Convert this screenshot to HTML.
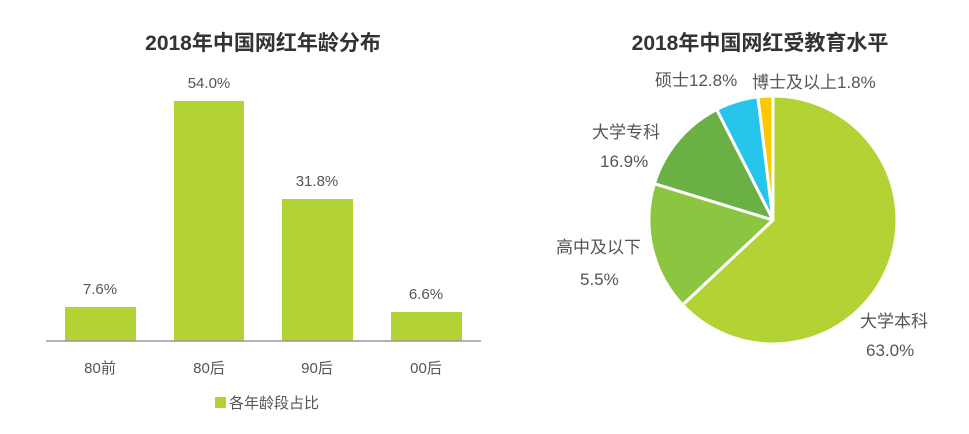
<!DOCTYPE html>
<html><head><meta charset="utf-8"><style>
body{margin:0;background:#fff;width:969px;height:429px;overflow:hidden}
svg text{font-family:"Liberation Sans","Noto Sans CJK SC",sans-serif}
</style></head><body>
<svg width="969" height="429" xmlns="http://www.w3.org/2000/svg">
<text x="263" y="50" font-size="21" font-weight="bold" text-anchor="middle" fill="#333">2018年中国网红年龄分布</text>
<text x="760" y="50" font-size="21" font-weight="bold" text-anchor="middle" fill="#333">2018年中国网红受教育水平</text>
<g fill="#b3d233">
<rect x="65" y="307" width="71" height="34"/>
<rect x="174" y="101" width="70" height="240"/>
<rect x="282" y="199" width="71" height="142"/>
<rect x="391" y="312" width="71" height="29"/>
</g>
<line x1="46" y1="341" x2="481" y2="341" stroke="#999" stroke-width="1.5"/>
<g font-size="15" fill="#555" text-anchor="middle">
<text x="100" y="294">7.6%</text>
<text x="209" y="88">54.0%</text>
<text x="317" y="186">31.8%</text>
<text x="426" y="299">6.6%</text>
<text x="100" y="373">80前</text>
<text x="209" y="373">80后</text>
<text x="317" y="373">90后</text>
<text x="426" y="373">00后</text>
</g>
<rect x="215" y="397" width="11" height="11" fill="#b3d233"/>
<text x="229" y="408" font-size="15" fill="#555">各年龄段占比</text>
<g stroke="#fff" stroke-width="3" stroke-linejoin="round">
<path d="M773,220 L773,96 A124,124 0 1,1 682.6,304.9 Z" fill="#b3d233"/>
<path d="M773,220 L682.6,304.9 A124,124 0 0,1 654.4,183.7 Z" fill="#8cc540"/>
<path d="M773,220 L654.4,183.7 A124,124 0 0,1 716.7,109.5 Z" fill="#6ab045"/>
<path d="M773,220 L716.7,109.5 A124,124 0 0,1 757.9,96.9 Z" fill="#27c4ec"/>
<path d="M773,220 L757.9,96.9 A124,124 0 0,1 773,96 Z" fill="#fcc800"/>
</g>
<g font-size="17" fill="#555">
<text x="655" y="86">硕士12.8%</text>
<text x="752" y="88">博士及以上1.8%</text>
<text x="592" y="138">大学专科</text>
<text x="600" y="167">16.9%</text>
<text x="556" y="253">高中及以下</text>
<text x="580" y="285">5.5%</text>
<text x="860" y="327">大学本科</text>
<text x="866" y="356">63.0%</text>
</g>
</svg>
</body></html>
